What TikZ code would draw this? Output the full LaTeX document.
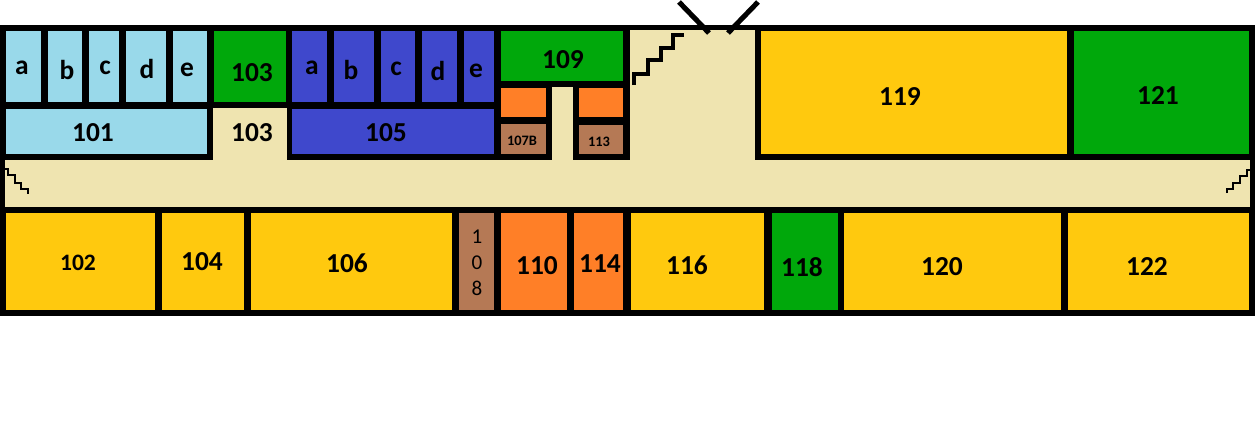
\documentclass[tikz,border=0pt]{standalone}
\usepackage{fontspec}
\setmainfont{Carlito}
\definecolor{roomCream}{HTML}{EFE4B0}
\definecolor{roomSky}{HTML}{99D9EA}
\definecolor{roomBlue}{HTML}{3F48CC}
\definecolor{roomGreen}{HTML}{00A80B}
\definecolor{roomYellow}{HTML}{FFC90E}
\definecolor{roomOrange}{HTML}{FF7F27}
\definecolor{roomBrown}{HTML}{B57955}
\tikzset{
myRoom/.style={draw=black,line width=0.9pt}
, mySky/.style={myRoom,fill=roomSky}
, myBlue/.style={myRoom,fill=roomBlue}
, myGreen/.style={myRoom,fill=roomGreen}
, myYellow/.style={myRoom,fill=roomYellow}
, myOrange/.style={myRoom,fill=roomOrange}
, myBrown/.style={myRoom,fill=roomBrown}
, myLabel/.style={inner sep=0pt,text=black,font=\fontsize{15.6}{15.6}\selectfont\bfseries}
, myLabelMid/.style={myLabel,font=\fontsize{13.4}{13.4}\selectfont\bfseries}
, myLabelTiny/.style={myLabel,font=\fontsize{8.2}{8.2}\selectfont\bfseries}
, myStack/.style={inner sep=0pt,text=black,align=center,font=\fontsize{12}{14.8}\selectfont}
% stairs and door
, myStairBig/.style={black,line width=1.9pt}
, myStairSmall/.style={black,line width=0.8pt}
, myDoor/.style={black,line width=2.9pt}
}
\begin{document}
\begin{tikzpicture}[x=0.02cm,y=-0.02cm]
	\useasboundingbox (0,0) rectangle (1255,420);
	% walls
	\fill[black] (0,25) rectangle (1255,316);
	% corridor and hall
	\fill[roomCream] (5,160) rectangle (1250,207);
	\fill[roomCream] (213,108) rectangle (287,161);
	\fill[roomCream] (552,87) rectangle (573,161);
	\fill[roomCream] (630,30) rectangle (755,161);
	% top row, left block
	\path[mySky] (5,30) rectangle (42,103);
	\path[mySky] (47,30) rectangle (83,103);
	\path[mySky] (88,30) rectangle (120,103);
	\path[mySky] (125,30) rectangle (167,103);
	\path[mySky] (172,30) rectangle (208,103);
	\path[mySky] (5,108) rectangle (208,155);
	\path[myGreen] (213,30) rectangle (287,103);
	% top row, blue block
	\path[myBlue] (291,30) rectangle (328,103);
	\path[myBlue] (333,30) rectangle (375,103);
	\path[myBlue] (380,30) rectangle (416,103);
	\path[myBlue] (421,30) rectangle (458,103);
	\path[myBlue] (463,30) rectangle (495,103);
	\path[myBlue] (291,108) rectangle (495,155);
	% top row, middle block
	\path[myGreen] (500,30) rectangle (624,82);
	\path[myOrange] (500,87) rectangle (547,118);
	\path[myBrown] (500,123) rectangle (547,155);
	\path[myOrange] (578,87) rectangle (624,118);
	\path[myBrown] (578,124) rectangle (624,155);
	% top row, right block
	\path[myYellow] (760,30) rectangle (1068,155);
	\path[myGreen] (1073,30) rectangle (1250,155);
	% bottom row
	\path[myYellow] (5,212) rectangle (156,311);
	\path[myYellow] (161,212) rectangle (245,311);
	\path[myYellow] (250,212) rectangle (453,311);
	\path[myBrown] (458,212) rectangle (495,311);
	\path[myOrange] (500,212) rectangle (568,311);
	\path[myOrange] (573,212) rectangle (624,311);
	\path[myYellow] (630,212) rectangle (765,311);
	\path[myGreen] (771,212) rectangle (839,311);
	\path[myYellow] (843,212) rectangle (1062,311);
	\path[myYellow] (1067,212) rectangle (1250,311);
	% stairs
	\draw[myStairBig] (634,85) |- (648,74) |- (661,60) |- (673,48) |- (684,35);
	\draw[myStairSmall] (5,169) -| (8,175) -| (15,183) -| (21,189) -| (28,194);
	\draw[myStairSmall] (1227,193) |- (1233,189) |- (1240,183) |- (1247,176) |- (1250,170);
	% door
	\draw[myDoor] (679,2) -- (709,33);
	\draw[myDoor] (758,2) -- (728,33);
	% labels
	\node[myLabel] (SkyA) at (22,68) {a};
	\node[myLabel] (SkyB) at (67,70) {b};
	\node[myLabel] (SkyC) at (105,68) {c};
	\node[myLabel] (SkyD) at (147,69) {d};
	\node[myLabel] (SkyE) at (187,70) {e};
	\node[myLabel] (R101) at (93,133) {101};
	\node[myLabel] (R103A) at (252,73) {103};
	\node[myLabel] (R103B) at (252,133) {103};
	\node[myLabel] (BlueA) at (312,68) {a};
	\node[myLabel] (BlueB) at (351,70) {b};
	\node[myLabel] (BlueC) at (396,69) {c};
	\node[myLabel] (BlueD) at (438,71) {d};
	\node[myLabel] (BlueE) at (476,71) {e};
	\node[myLabel] (R105) at (386,133) {105};
	\node[myLabel] (R109) at (563,60) {109};
	\node[myLabelTiny] (R107B) at (522,141) {107B};
	\node[myLabelTiny] (R113) at (599,142) {113};
	\node[myLabel] (R119) at (900,97) {119};
	\node[myLabel] (R121) at (1158,96) {121};
	\node[myLabelMid] (R102) at (78,263) {102};
	\node[myLabel] (R104) at (202,262) {104};
	\node[myLabel] (R106) at (347,263) {106};
	\node[myStack] (R108) at (477,263) {1\\0\\8};
	\node[myLabel] (R110) at (537,266) {110};
	\node[myLabel] (R114) at (600,264) {114};
	\node[myLabel] (R116) at (687,265) {116};
	\node[myLabel] (R118) at (802,267) {118};
	\node[myLabel] (R120) at (942,267) {120};
	\node[myLabel] (R122) at (1147,267) {122};
\end{tikzpicture}
\end{document}
